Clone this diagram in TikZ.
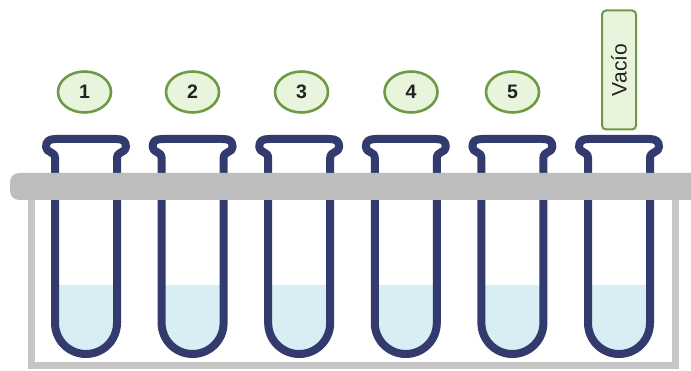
\documentclass[tikz,border=0pt]{standalone}
\usepackage{fontspec}
\setmainfont{Liberation Sans}
\usetikzlibrary{shapes.geometric}
\definecolor{tubeblue}{HTML}{333B6E}
\definecolor{liquid}{HTML}{D8EEF4}
\definecolor{rackgray}{HTML}{BDBDBD}
\definecolor{legray}{HTML}{C6C6C6}
\definecolor{tagfill}{HTML}{E9F4DC}
\definecolor{tagline}{HTML}{6F9A45}
\definecolor{txt}{HTML}{222222}
\tikzset{
  tubewall/.style={draw=tubeblue, line width=8pt, line cap=round, line join=round},
  fluid/.style={fill=liquid},
  rackbar/.style={fill=rackgray, rounded corners=9pt},
  rackframe/.style={draw=legray, line width=7pt},
  numtag/.style={ellipse, draw=tagline, fill=tagfill, line width=2.6pt,
    minimum width=53pt, minimum height=41pt, inner sep=0pt,
    font=\fontsize{19.5}{19.5}\selectfont\bfseries, text=txt},
  emptytag/.style={rectangle, rounded corners=4pt, draw=tagline, fill=tagfill,
    line width=2pt, minimum width=34pt, minimum height=119pt, inner sep=0pt,
    font=\fontsize{21}{21}\selectfont, text=txt}
}
\begin{document}
\begin{tikzpicture}[x=1pt, y=-1pt]
  \useasboundingbox (0,0) rectangle (691,371);
  \begin{scope}
    \clip (0,0) rectangle (691,371);
    % rack legs and base
    \draw[rackframe] (31,190) -- (31,366) -- (675,366) -- (675,190);
    % liquid in each tube
    \foreach \cx in {86,192.6,299.2,405.8,512.4,619}
      \fill[fluid] (\cx-31,285) -- (\cx-31,323) arc (180:0:31) -- (\cx+31,285) -- cycle;
    % tube outlines with flared lips
    \foreach \cx in {86,192.6,299.2,405.8,512.4,619}
      \draw[tubewall] (\cx-31,323) -- (\cx-31,158)
        .. controls (\cx-31,151) and (\cx-40,153) .. (\cx-40,147)
        .. controls (\cx-40,141) and (\cx-37,139) .. (\cx-30,139)
        -- (\cx+30,139)
        .. controls (\cx+37,139) and (\cx+40,141) .. (\cx+40,147)
        .. controls (\cx+40,153) and (\cx+31,151) .. (\cx+31,158)
        -- (\cx+31,323) arc (0:180:31);
    % top bar of the rack
    \fill[rackbar] (10,173) rectangle (710,200);
  \end{scope}
  % labels
  \node[numtag] (n1) at (84.5,92) {1};
  \node[numtag] (n2) at (192.5,92) {2};
  \node[numtag] (n3) at (301.5,92) {3};
  \node[numtag] (n4) at (411,92) {4};
  \node[numtag] (n5) at (512.5,92) {5};
  \node[emptytag] (empty) at (619,70) {\rotatebox{90}{Vacío}};
\end{tikzpicture}
\end{document}
